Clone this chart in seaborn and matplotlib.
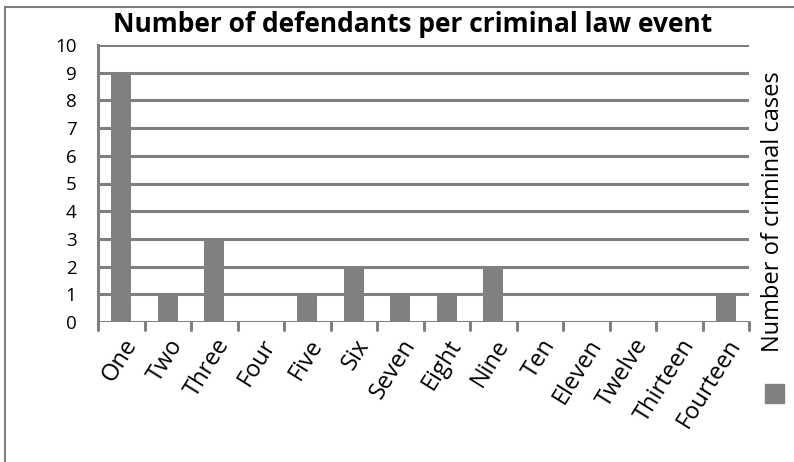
import matplotlib
matplotlib.use("Agg")
import matplotlib.pyplot as plt
import seaborn as sns
import pandas as pd
from matplotlib.patches import Rectangle

categories = ["One", "Two", "Three", "Four", "Five", "Six", "Seven", "Eight",
              "Nine", "Ten", "Eleven", "Twelve", "Thirteen", "Fourteen"]
cases = [9, 1, 3, 0, 1, 2, 1, 1, 2, 0, 0, 0, 0, 1]
series_name = "Number of criminal cases"
title = "Number of defendants per criminal law event"
y_ticks = list(range(0, 11))

sns.set_style("white")
plt.rcParams['font.family'] = ['Open Sans', 'DejaVu Sans']

df = pd.DataFrame({"cat": categories, "val": cases})

fig = plt.figure(figsize=(7.94, 4.62), dpi=100)
ax = fig.add_axes([98/794, 1-322/462, (749-98)/794, (322-45)/462])

GRAY = "#808080"
sns.barplot(data=df, x="cat", y="val", color=GRAY, width=0.43, ax=ax,
            saturation=1, edgecolor="none", zorder=3)

ax.set_ylim(0, 10)
ax.set_xlim(-0.5, len(categories) - 0.5)
ax.set_yticks(y_ticks)
ax.set_yticklabels([str(t) for t in y_ticks], fontsize=13.5, color="black")
ax.set_xlabel("")
ax.set_ylabel("")

# gridlines
for t in y_ticks:
    ax.axhline(t, color=GRAY, lw=2.2, zorder=1)

# x tick labels at category centres, tick marks between categories
ax.set_xticks([i for i in range(len(categories))])
ax.set_xticklabels(categories, rotation=58, ha="right", rotation_mode="anchor",
                   fontsize=17, color="black")
ax.tick_params(axis="x", length=0, pad=9)
ax.tick_params(axis="y", length=5, width=2.2, color=GRAY, pad=10.5, direction="out")
for i in range(len(categories) + 1):
    ax.plot([i - 0.5, i - 0.5], [0, -0.3], color=GRAY, lw=2.2,
            clip_on=False, zorder=2)

for s in ["top", "right", "bottom"]:
    ax.spines[s].set_visible(False)
ax.spines["left"].set_color(GRAY)
ax.spines["left"].set_linewidth(2.2)

fig.text(413/794, 1-25/462, title, ha="center", va="center",
         fontsize=19, fontweight="bold", color="black")

# legend
fig.text(773/794, 1-212/462, series_name, rotation=90, ha="center",
         va="center", fontsize=17, color="black")
fig.patches.append(Rectangle((765/794, 1-403/462), 19/794, 19/462,
                             transform=fig.transFigure, color=GRAY,
                             figure=fig))

# outer frame
fig.patches.append(Rectangle((5/794, -0.1), 1.2, 1 - 7/462 + 0.1,
                             transform=fig.transFigure, fill=False,
                             edgecolor="#7f7f7f", lw=1.5, figure=fig))

fig.savefig("out.png", dpi=100)
